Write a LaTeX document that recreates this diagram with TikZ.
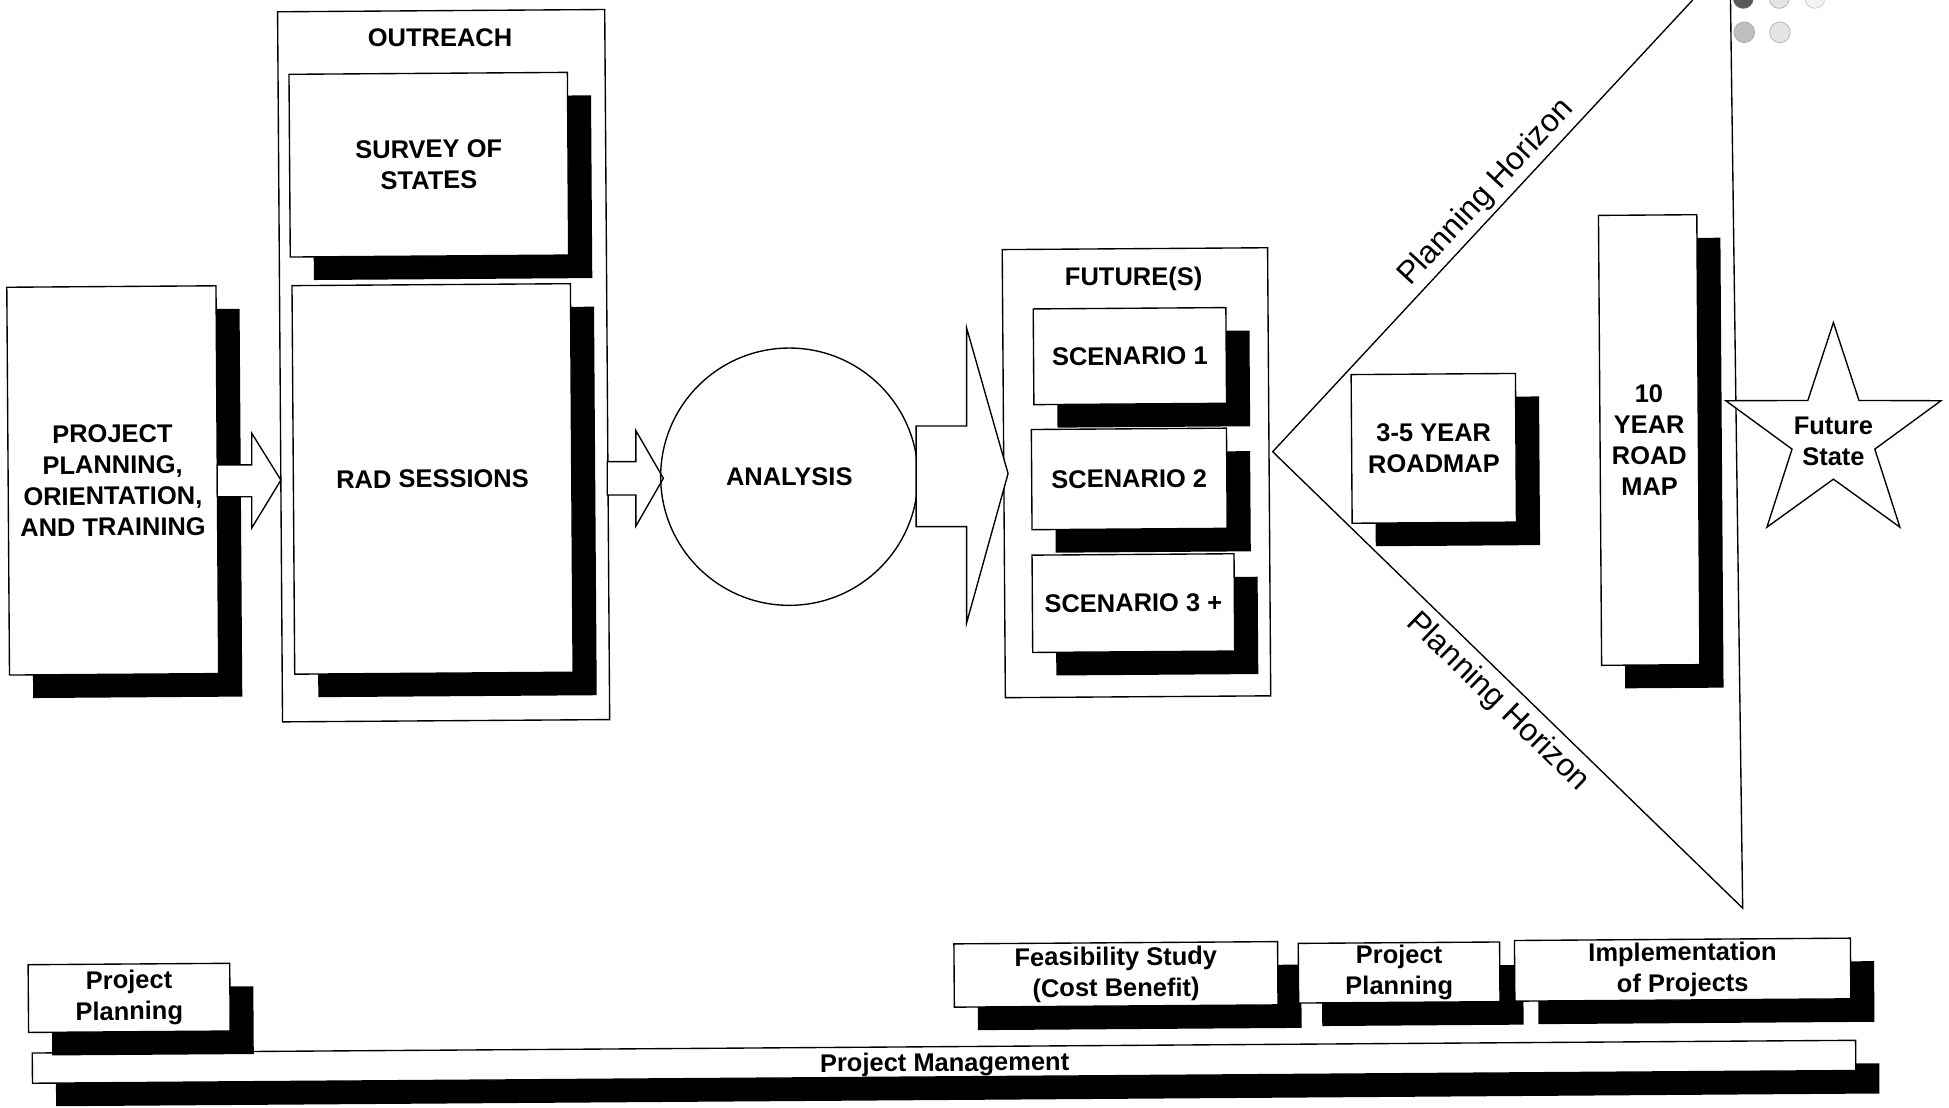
\documentclass[tikz,border=0pt]{standalone}
\usepackage{fontspec}
\setmainfont{Liberation Sans}
\usetikzlibrary{shadows,calc}
\newcommand{\boxfont}{\fontsize{20.5}{25}\selectfont\bfseries}
\newcommand{\horizonfont}{\fontsize{25.5}{30}\selectfont}
\begin{document}
\begin{tikzpicture}[x=1pt,y=-1pt,line width=1.1pt,
  frame/.style={draw,fill=white,inner sep=0pt,rotate=0.4},
  box/.style={draw,fill=white,inner sep=0pt,align=center,rotate=0.4,font=\boxfont,
    drop shadow={shadow xshift=19pt,shadow yshift=-18.5pt,fill=black,opacity=1}},
  label/.style={inner sep=0pt,align=center,font=\boxfont},
  blockarrow/.style={draw,fill=white,line join=miter},
  horizon/.style={inner sep=0pt,font=\horizonfont}]

\fill[white] (0,0) rectangle (1568,891);
\useasboundingbox (0,0) rectangle (1568,891);

% halftone dots in the top right corner
\filldraw[draw=gray!80!black,fill=gray!70!black,line width=0.6pt] (1402.5,-1.3) circle[radius=8pt];
\filldraw[draw=gray!60,fill=gray!20,line width=0.6pt] (1431.4,-1.3) circle[radius=8pt];
\filldraw[draw=gray!40,fill=gray!10,line width=0.6pt] (1460,-1.3) circle[radius=8pt];
\filldraw[draw=gray!70,fill=gray!50,line width=0.6pt] (1403.3,26) circle[radius=8.3pt];
\filldraw[draw=gray!60,fill=gray!20,line width=0.6pt] (1432,26) circle[radius=8.3pt];

% outreach group
\node[frame,minimum width=263.2pt,minimum height=571.3pt] (outreach) at (356.9,294.2) {};
\node[label] (outreachlbl) at (354,30) {OUTREACH};
\node[box,minimum width=224pt,minimum height=147pt] (survey) at (345,132.5) {SURVEY OF\\STATES};
\node[box,minimum width=224pt,minimum height=312.6pt] (rad) at (348,385.3) {RAD SESSIONS};

% first stage
\node[box,minimum width=168.3pt,minimum height=312pt] (pp) at (90.7,386.5)
  {PROJECT\\PLANNING,\\ORIENTATION,\\AND TRAINING};

% block arrows between the stages
\draw[blockarrow] (174.8,374) -- (202.5,374) -- (202.5,348.5) -- (226,386.2)
  -- (202.5,424.8) -- (202.5,399.6) -- (174.8,399.6) -- cycle;
\draw[blockarrow] (488.5,371.4) -- (511.6,371.4) -- (511.6,346.5) -- (533.7,384.8)
  -- (511.6,423.2) -- (511.6,398.2) -- (488.5,398.2) -- cycle;

% analysis
\node[draw,circle,minimum size=207pt,inner sep=0pt,font=\boxfont] (analysis) at (635,383.5) {ANALYSIS};

% futures group
\node[frame,minimum width=213.5pt,minimum height=360.5pt] (futures) at (914.3,380.3) {};
\node[label] (futureslbl) at (912,224) {FUTURE(S)};
\draw[blockarrow] (737,342.7) -- (777.7,342.7) -- (777.7,264) -- (811,381)
  -- (777.7,501) -- (777.7,423.7) -- (737,423.7) -- cycle;
\node[box,minimum width=155pt,minimum height=77pt] (s1) at (909,286.5) {SCENARIO 1};
\node[box,minimum width=157pt,minimum height=80.6pt] (s2) at (908.5,385.3) {SCENARIO 2};
\node[box,minimum width=162.5pt,minimum height=78.3pt] (s3) at (911.8,485.2) {SCENARIO 3 +};

% planning horizon wedge
\coordinate (apex) at (1023.9,363.4);
\coordinate (uppertop) at (1361.8,0);
\coordinate (wedgebottom) at (1402,730.6);
\coordinate (righttop) at (1392.2,0);
\draw (uppertop) -- (apex) -- (wedgebottom) -- (righttop);
\node[horizon,rotate=47.1] (ph1) at (1195.9,155.1) {Planning Horizon};
\node[horizon,rotate=-44.2] (ph2) at (1205,565) {Planning Horizon};

\node[box,minimum width=132.2pt,minimum height=119.6pt] (r35) at (1153.5,360.7) {3-5 YEAR\\ROADMAP};
\node[box,minimum width=79.1pt,minimum height=362pt] (r10) at (1326.8,354) {10\\YEAR\\ROAD\\MAP};

% future state star
\coordinate (fs) at (1475,350.5);
\draw[fill=white,line join=miter] ($(fs)+(-90:91)$)
  \foreach \a in {0,72,...,288} { -- ($(fs)+(-90-\a:91)$) -- ($(fs)+(-126-\a:35)$) } -- cycle;
\node[label] (fslbl) at (1475,355) {Future\\State};

% project phases along the bottom
\node[box,minimum width=1467pt,minimum height=24.3pt] (pm) at (759.5,854.2) {};
\node[label,anchor=base,rotate=0.4] (pmlbl) at (760,861.8) {Project Management};
\node[box,minimum width=162.2pt,minimum height=54.5pt] (pp2) at (103.9,802.8) {Project\\Planning};
\node[box,minimum width=260.4pt,minimum height=50.9pt] (feas) at (897.8,783.9) {Feasibility Study\\(Cost Benefit)};
\node[box,minimum width=162pt,minimum height=48pt] (pp3) at (1125.6,782.4) {Project\\Planning};
\node[box,minimum width=270.3pt,minimum height=48.8pt] (impl) at (1353.7,780.1) {Implementation\\of Projects};

\end{tikzpicture}
\end{document}
